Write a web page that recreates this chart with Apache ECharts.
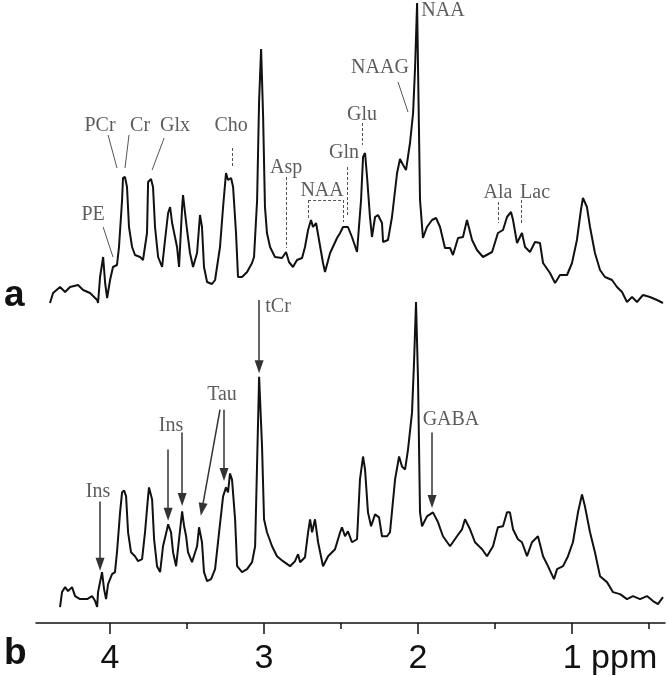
<!DOCTYPE html>
<html>
<head>
<meta charset="utf-8">
<title>1H MRS spectra</title>
<script src="https://cdn.jsdelivr.net/npm/echarts@6.0.0/dist/echarts.min.js"></script>
<style>
  html, body { margin: 0; padding: 0; background: #fff; }
  #chart { width: 668px; height: 676px; }
</style>
</head>
<body>
<div id="chart"></div>
<script>
// spectrum a (ppm / intensity, arbitrary units)
var ppmA = [4.390,4.370,4.325,4.292,4.260,4.208,4.175,4.130,4.084,4.078,
  4.065,4.045,4.032,4.019,4.000,3.981,3.955,3.942,3.922,3.916,
  3.903,3.890,3.877,3.857,3.838,3.805,3.786,3.760,3.753,3.734,
  3.721,3.708,3.688,3.662,3.643,3.623,3.610,3.597,3.591,3.565,
  3.552,3.532,3.526,3.513,3.500,3.481,3.461,3.435,3.416,3.403,
  3.390,3.370,3.338,3.318,3.286,3.266,3.247,3.234,3.214,3.201,
  3.182,3.169,3.143,3.110,3.078,3.065,3.045,3.032,3.019,3.006,
  2.994,2.981,2.961,2.929,2.883,2.857,2.838,2.812,2.786,2.753,
  2.734,2.714,2.695,2.682,2.662,2.643,2.617,2.604,2.571,2.526,
  2.506,2.487,2.455,2.429,2.396,2.370,2.357,2.344,2.331,2.312,
  2.299,2.279,2.260,2.234,2.227,2.195,2.169,2.136,2.117,2.097,
  2.078,2.052,2.032,2.019,2.006,2.000,1.987,1.968,1.942,1.909,
  1.883,1.857,1.825,1.792,1.773,1.740,1.708,1.682,1.649,1.617,
  1.578,1.519,1.481,1.448,1.422,1.396,1.383,1.357,1.325,1.305,
  1.273,1.240,1.208,1.188,1.143,1.110,1.078,1.032,1.000,0.968,
  0.942,0.929,0.903,0.883,0.851,0.818,0.786,0.740,0.708,0.675,
  0.643,0.610,0.578,0.539,0.494,0.448,0.409];
var intA = [9,19,25,20,25,27,22,19,12,9,
  35,55,29,14,32,45,47,65,112,134,
  135,125,85,65,57,55,52,79,130,133,
  125,85,55,45,72,99,105,89,90,65,
  45,105,117,99,82,59,45,59,97,85,
  45,30,28,32,65,105,139,132,134,125,
  79,35,35,40,49,55,112,212,263,195,
  105,79,65,55,54,60,50,45,52,54,
  65,82,92,85,89,72,49,40,59,74,
  79,85,85,75,60,112,155,159,135,95,
  75,95,97,89,70,72,95,139,153,147,
  142,169,199,245,309,245,112,74,85,92,
  94,85,64,64,57,74,75,92,72,62,
  55,60,79,82,95,100,92,69,79,65,
  60,70,69,49,39,29,37,37,49,72,
  102,114,105,85,59,42,35,32,25,20,
  10,15,10,17,15,12,9];

// spectrum b
var ppmB = [4.325,4.312,4.292,4.273,4.247,4.227,4.195,4.149,4.117,4.097,
  4.084,4.078,4.052,4.039,4.026,4.013,3.987,3.968,3.955,3.935,3.922,
  3.909,3.896,3.883,3.864,3.838,3.818,3.792,3.773,3.753,3.747,
  3.727,3.714,3.695,3.675,3.656,3.630,3.623,3.604,3.591,3.571,
  3.552,3.532,3.519,3.506,3.494,3.468,3.435,3.422,3.403,3.390,
  3.370,3.344,3.318,3.292,3.266,3.247,3.234,3.221,3.208,3.188,
  3.175,3.143,3.110,3.078,3.058,3.045,3.032,3.013,3.000,2.981,
  2.948,2.916,2.877,2.831,2.799,2.779,2.766,2.734,2.714,2.701,
  2.688,2.669,2.649,2.617,2.584,2.539,2.506,2.494,2.474,2.455,
  2.429,2.396,2.377,2.357,2.344,2.325,2.305,2.279,2.253,2.234,
  2.201,2.182,2.149,2.123,2.104,2.084,2.065,2.039,2.026,2.013,
  2.000,1.987,1.974,1.942,1.903,1.870,1.838,1.792,1.747,1.714,
  1.695,1.662,1.630,1.584,1.552,1.513,1.481,1.448,1.422,1.403,
  1.383,1.351,1.325,1.292,1.260,1.221,1.188,1.156,1.117,1.097,
  1.058,1.026,0.994,0.961,0.935,0.916,0.883,0.851,0.818,0.773,
  0.734,0.688,0.643,0.604,0.558,0.513,0.474,0.442,0.409];
var intB = [16,31,36,32,36,27,24,24,27,22,
  16,31,51,34,24,39,49,51,71,111,131,
  133,127,91,71,67,62,64,91,127,136,
  124,84,57,51,77,94,99,91,71,57,
  84,112,97,87,71,61,77,96,81,51,
  42,44,54,91,127,136,131,150,144,104,
  57,51,54,61,77,161,247,177,104,91,
  77,67,62,57,62,69,61,66,91,104,
  91,104,81,57,67,74,91,96,87,92,
  81,84,144,167,154,111,97,109,106,87,
  87,91,144,167,157,154,174,211,261,322,
  244,111,97,107,111,101,87,77,87,94,
  104,94,81,74,67,77,96,97,111,111,
  94,84,81,67,81,87,67,57,44,54,
  57,67,81,111,129,117,91,71,47,41,
  31,29,24,27,24,27,22,19,26];

var majorTicks = [1, 2, 3, 4];
var minorTicks = [0.5, 1.5, 2.5, 3.5];

// peak names: [name, ppm, intensity]
var namesA = [['PE',4.110,97],['PCr',4.065,186],['Cr',3.805,186],['Glx',3.578,186],
  ['Cho',3.214,186],['Asp',2.857,144],['NAA',2.623,121],['Gln',2.481,159],
  ['Glu',2.364,197],['NAAG',2.247,244],['NAA',1.838,301],['Ala',1.481,119],['Lac',1.240,119]];
var namesB = [['tCr',2.909,317],['Tau',3.273,229],['Ins',3.604,198],['Ins',4.078,132],['GABA',1.786,204]];

// pointer lines: [ppm1, int1, ppm2, int2]
var leadersA = [[4.045,85,3.981,55],[4.013,177,3.955,144],[3.877,177,3.903,144],
  [3.649,174,3.727,142],[2.130,230,2.065,200]];
var dashesA = [[3.208,164,3.208,144],[2.857,135,2.857,64],[2.714,112,2.487,112],
  [2.714,112,2.714,92],[2.487,112,2.487,90],[2.461,145,2.461,95],
  [2.364,189,2.364,167],[1.481,110,1.481,89],[1.331,112,1.331,89]];
var arrowsB = [[3.032,324,3.032,257],[3.260,214,3.260,149],[3.286,214,3.403,114],
  [3.623,174,3.623,109],[3.532,191,3.532,124],[4.065,122,4.065,59],[1.909,191,1.909,122]];

function pairs(xs, ys) {
  return xs.map(function (x, i) { return [x, ys[i]]; });
}
function segs(list, style) {
  return list.map(function (d) {
    return [{ coord: [d[0], d[1]], lineStyle: style }, { coord: [d[2], d[3]] }];
  });
}

var serif = '"Liberation Serif", "Times New Roman", serif';
var sans = '"Liberation Sans", Arial, sans-serif';
var xMin = 0.396, xMax = 4.481;

var chart = echarts.init(document.getElementById('chart'));

var labelStyle = {
  show: true, position: 'inside', formatter: '{b}',
  fontFamily: serif, fontSize: 20, color: '#333'
};

var option = {
  animation: false,
  backgroundColor: '#fff',
  grid: [
    { left: 36, right: 3, top: 0, height: 312 },
    { left: 36, right: 3, top: 300, height: 324 }
  ],
  xAxis: [
    { type: 'value', gridIndex: 0, inverse: true, min: xMin, max: xMax, show: false },
    {
      type: 'value', gridIndex: 1, inverse: true, min: xMin, max: xMax, position: 'bottom',
      splitLine: { show: false },
      axisLine: { show: true, lineStyle: { color: '#111', width: 1.5 } },
      axisTick: { show: true, customValues: majorTicks, length: 11, lineStyle: { color: '#111', width: 1.5 } },
      axisLabel: {
        customValues: majorTicks, margin: 19,
        fontFamily: sans, fontSize: 34, color: '#111',
        formatter: function (v) { return v === 1 ? '{u|1 ppm}' : String(v); },
        rich: { u: { fontFamily: sans, fontSize: 34, color: '#111', padding: [0, 0, 0, 76] } }
      }
    },
    {
      type: 'value', gridIndex: 1, inverse: true, min: xMin, max: xMax, position: 'bottom',
      splitLine: { show: false },
      axisLine: { show: false },
      axisTick: { show: true, customValues: minorTicks, length: 6, lineStyle: { color: '#111', width: 1.5 } },
      axisLabel: { show: false }
    }
  ],
  yAxis: [
    { type: 'value', gridIndex: 0, min: 0, max: 312, show: false },
    { type: 'value', gridIndex: 1, min: 0, max: 324, show: false }
  ],
  graphic: [
    { type: 'text', left: 4, top: 277, style: { text: 'a', font: 'bold 37px ' + sans, fill: '#111' } },
    { type: 'text', left: 4, top: 635, style: { text: 'b', font: 'bold 37px ' + sans, fill: '#111' } }
  ],
  series: [
    {
      name: 'a', type: 'line', xAxisIndex: 0, yAxisIndex: 0,
      data: pairs(ppmA, intA), showSymbol: false, silent: true,
      lineStyle: { color: '#111', width: 2 },
      markLine: {
        silent: true, symbol: 'none', label: { show: false },
        data: segs(leadersA, { color: '#555', width: 1, type: 'solid' })
          .concat(segs(dashesA, { color: '#555', width: 1, type: [3, 2] }))
      }
    },
    {
      name: 'b', type: 'line', xAxisIndex: 1, yAxisIndex: 1,
      data: pairs(ppmB, intB), showSymbol: false, silent: true,
      lineStyle: { color: '#111', width: 2 },
      markLine: {
        silent: true, symbol: ['none', 'triangle'], symbolSize: [9, 13],
        label: { show: false },
        data: segs(arrowsB, { color: '#333', width: 1.5, type: 'solid' })
      }
    },
    {
      type: 'scatter', xAxisIndex: 0, yAxisIndex: 0, symbolSize: 0, silent: true,
      itemStyle: { color: 'transparent' }, label: labelStyle,
      data: namesA.map(function (d) { return { name: d[0], value: [d[1], d[2]] }; })
    },
    {
      type: 'scatter', xAxisIndex: 1, yAxisIndex: 1, symbolSize: 0, silent: true,
      itemStyle: { color: 'transparent' }, label: labelStyle,
      data: namesB.map(function (d) { return { name: d[0], value: [d[1], d[2]] }; })
    }
  ]
};

chart.setOption(option);
</script>
</body>
</html>
